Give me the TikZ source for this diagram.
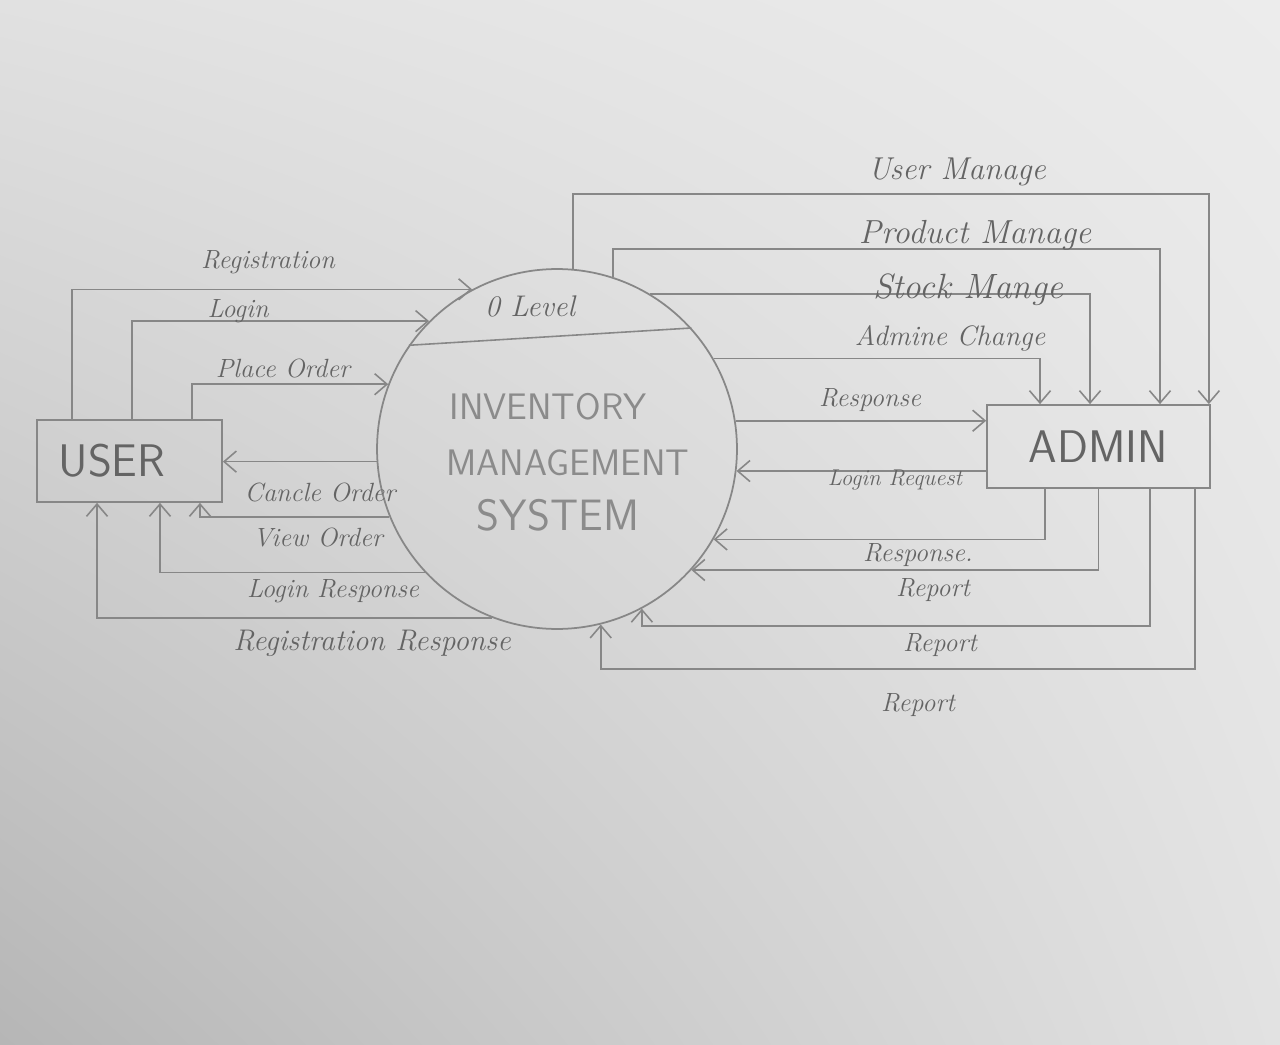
\documentclass[tikz,border=0pt]{standalone}
\usepackage{fontspec}
\usepackage{tikz}
\usetikzlibrary{arrows.meta, positioning, shapes.geometric, calc, shadings}

\definecolor{pencil}{RGB}{135,135,135}
\definecolor{lead}{RGB}{100,100,100}
\definecolor{paperA}{RGB}{225,225,225}
\definecolor{paperB}{RGB}{236,236,236}
\definecolor{paperC}{RGB}{182,182,182}
\definecolor{paperD}{RGB}{226,226,226}

\begin{document}
\begin{tikzpicture}[x=0.02cm, y=-0.02cm,
    flow/.style={draw=pencil, line width=0.9pt, -{Straight Barb[length=7pt,width=12pt]}},
    entity/.style={draw=pencil, line width=1pt, text=lead, font=\sffamily\fontsize{26}{28}\selectfont,
        minimum width=3.7cm, minimum height=1.64cm},
    process/.style={circle, draw=pencil, line width=1pt, minimum size=7.2cm},
    lbl/.style={text=lead, font=\itshape\fontsize{15}{17}\selectfont, inner sep=0pt},
    title/.style={text=lead!75, font=\sffamily\fontsize{21}{23}\selectfont, inner sep=0pt}]

    % paper
    \useasboundingbox (0,0) rectangle (1280,1044);
    \shade[upper left=paperA, upper right=paperB, lower left=paperC, lower right=paperD]
        (0,0) rectangle (1280,1044);

    % nodes
    \node[process] (ims) at (557,449) {};
    \node[entity] (user) at (129.5,461) {USER\hspace*{0.7cm}};
    \node[entity, minimum width=4.46cm, minimum height=1.66cm] (admin) at (1098.5,446.5) {ADMIN};

    \node[title] (t1) at (548,407) {INVENTORY};
    \node[title] (t2) at (568,463) {MANAGEMENT};
    \node[title, font=\sffamily\fontsize{25}{27}\selectfont] (t3) at (558,515) {SYSTEM};

    \draw[pencil, line width=0.9pt] (ims.145) -- (ims.42);
    \node[lbl, font=\itshape\fontsize{17}{19}\selectfont] (lvl) at (530,306) {0 Level};

    % user side
    \draw[flow] ([xshift=-1.15cm]user.north) |- (ims.118);
    \draw[flow] ([xshift=0.05cm]user.north) |- (ims.135);
    \draw[flow] ([xshift=1.25cm]user.north) |- (ims.159);
    \draw[flow] (ims.184) -- (ims.184 -| user.east);
    \draw[flow] (ims.202) -| ([xshift=1.41cm]user.south);
    \draw[flow] (ims.223.5) -| ([xshift=0.61cm]user.south);
    \draw[flow] (ims.249) -| ([xshift=-0.65cm]user.south);

    \node[lbl] (l1) at (268,262) {Registration};
    \node[lbl] (l2) at (238,311) {Login};
    \node[lbl] (l3) at (283,368) {Place Order};
    \node[lbl] (l4) at (320,492) {Cancle Order};
    \node[lbl] (l5) at (318,537) {View Order};
    \node[lbl] (l6) at (333,591) {Login Response};
    \node[lbl, font=\itshape\fontsize{17}{19}\selectfont] (l7) at (372,643) {Registration Response};

    % admin side
    \draw[flow] (ims.85) -- ++(0,-75) -| ([xshift=-0.04cm]admin.north east);
    \draw[flow] (ims.72) -- ++(0,-28) -| ([xshift=1.23cm]admin.north);
    \draw[flow] (ims.59) -| ([xshift=-0.17cm]admin.north);
    \draw[flow] (ims.30) -| ([xshift=-1.17cm]admin.north);
    \draw[flow] (ims.9) -- (ims.9 -| admin.west);
    \draw[flow] (admin.west |- ims.353) -- (ims.353);
    \draw[flow] ([xshift=-1.07cm]admin.south) |- (ims.330);
    \draw[flow] (admin.south) |- (ims.318);
    \draw[flow] ([xshift=1.03cm]admin.south) -- ++(0,137) -| (ims.298);
    \draw[flow] ([xshift=1.93cm]admin.south) -- ++(0,180) -| (ims.284);

    \node[lbl, font=\itshape\fontsize{18}{20}\selectfont] (r1) at (957,172) {User Manage};
    \node[lbl, font=\itshape\fontsize{19}{21}\selectfont] (r2) at (975,235) {Product Manage};
    \node[lbl, font=\itshape\fontsize{20}{22}\selectfont] (r3) at (968,290) {Stock Mange};
    \node[lbl, font=\itshape\fontsize{16}{18}\selectfont] (r4) at (950,338) {Admine Change};
    \node[lbl] (r5) at (870,400) {Response};
    \node[lbl, font=\itshape\fontsize{13}{15}\selectfont] (r6) at (895,480) {Login Request};
    \node[lbl] (r7) at (918,555) {Response.};
    \node[lbl] (r8) at (933,590) {Report};
    \node[lbl] (r9) at (940,645) {Report};
    \node[lbl] (r10) at (918,705) {Report};
\end{tikzpicture}
\end{document}
